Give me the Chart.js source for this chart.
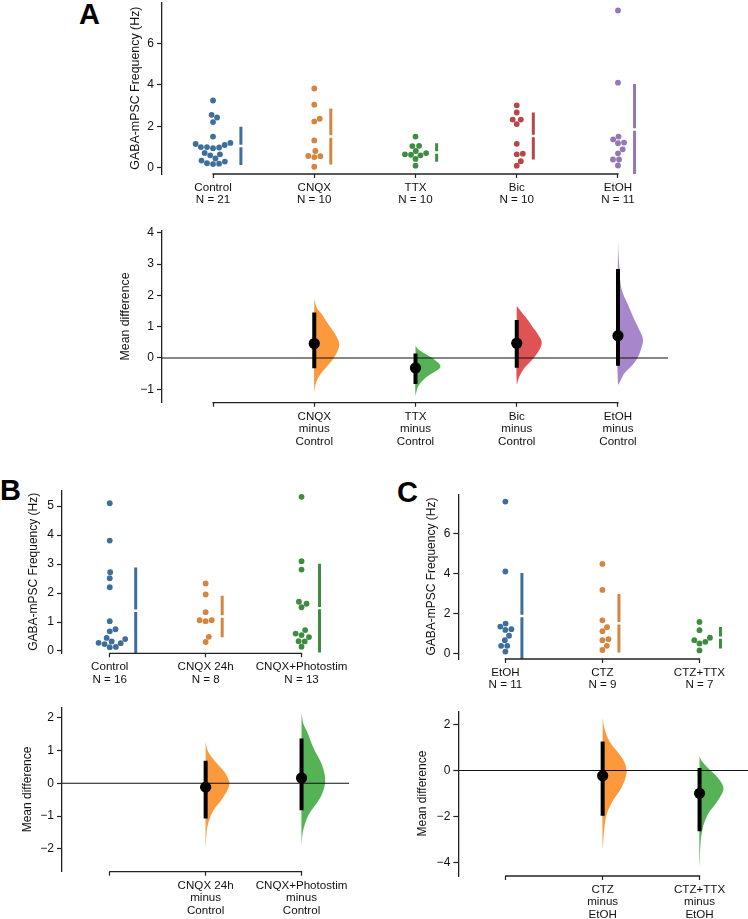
<!DOCTYPE html>
<html><head><meta charset="utf-8">
<script src="https://cdn.jsdelivr.net/npm/chart.js@4.4.1/dist/chart.umd.min.js"></script>
<style>
html,body{margin:0;padding:0;background:#fff;}
body{width:748px;height:919px;position:relative;overflow:hidden;font-family:"Liberation Sans",Arial,sans-serif;}
canvas{position:absolute;}
.lbl{position:absolute;font-weight:bold;font-size:29px;line-height:1;color:#000;font-family:"Liberation Sans",Arial,sans-serif;}
</style></head><body>
<div class="lbl" style="left:79px;top:0px">A</div>
<div class="lbl" style="left:0px;top:476px">B</div>
<div class="lbl" style="left:397px;top:478px">C</div>
<script>
// ---------------- DATA ----------------
// Panel A (swarm)
const aGroups = ['Control','CNQX','TTX','Bic','EtOH'];
const aControl = [3.25,2.56,2.43,2.21,1.51,1.15,1.2,1.1,1.0,0.98,1.0,0.95,0.72,0.65,0.6,0.45,0.35,0.3,0.22,0.18,0.2];
const aCNQX = [3.83,3.05,2.37,2.24,1.32,0.81,0.56,0.52,0.57,0.05];
const aTTX = [1.51,1.05,1.06,0.71,0.6,0.65,0.63,0.81,0.43,0.1];
const aBic = [3.02,2.67,2.33,2.33,2.11,1.16,0.68,0.65,0.32,0.1];
const aEtOH = [7.6,4.11,1.51,1.22,1.19,1.37,0.89,0.7,0.4,0.4,0.11];
const aMeans = [1.055,1.51,0.74,1.535,1.85];
const aSDs = [0.925,1.35,0.45,1.135,2.2];
const aYTicks = [0,2,4,6];
// Panel A (mean differences)
const aDiffLabels = ['CNQX','TTX','Bic','EtOH'];
const aDiff = [0.46,-0.32,0.47,0.71];
const aCiLo = [-0.33,-0.83,-0.31,-0.25];
const aCiHi = [1.45,0.14,1.21,2.84];
const aDiffTicks = [-1,0,1,2,3,4];
const aViolinY = [
  [1.9,1.6,1.4,1.15,0.95,0.7,0.45,0.25,0.0,-0.3,-0.6,-0.85,-1.09],
  [0.38,0.25,0.1,-0.05,-0.27,-0.45,-0.6,-0.75,-0.95,-1.2],
  [1.66,1.4,1.2,1.0,0.75,0.5,0.25,0.0,-0.3,-0.6,-0.83],
  [3.8,3.3,2.85,2.2,1.7,1.2,0.85,0.59,0.3,0.0,-0.25,-0.5,-0.83]
];
const aViolinW = [
  [0,0.1,0.3,0.5,0.68,0.88,1.0,0.95,0.78,0.48,0.18,0.05,0],
  [0,0.15,0.45,0.75,1.0,0.75,0.45,0.25,0.08,0],
  [0,0.25,0.45,0.62,0.85,1.0,0.9,0.68,0.33,0.1,0],
  [0,0.02,0.06,0.14,0.4,0.67,0.88,1.0,0.93,0.78,0.55,0.25,0]
];

// Panel B (swarm)
const bGroups = ['Control','CNQX 24h','CNQX+Photostim'];
const bControl = [5.1,3.81,2.72,2.51,2.2,1.03,0.75,0.68,0.45,0.41,0.28,0.27,0.24,0.33,0.14,0.13];
const bCNQX24 = [2.33,1.95,1.34,1.06,1.03,1.06,0.49,0.31];
const bPhotostim = [5.32,3.1,2.81,1.63,1.7,1.51,0.72,0.6,0.55,0.48,0.34,0.33,0.15];
const bMeans = [1.39,1.19,1.48];
const bSDs = [1.49,0.72,1.53];
const bYTicks = [0,1,2,3,4,5];
// Panel B (mean differences)
const bDiffLabels = ['CNQX 24h','CNQX+Photostim'];
const bDiff = [-0.12,0.16];
const bCiLo = [-1.07,-0.82];
const bCiHi = [0.68,1.36];
const bDiffTicks = [-2,-1,0,1,2];
const bViolinY = [
  [1.26,1.0,0.8,0.56,0.26,-0.05,-0.44,-0.84,-1.24,-1.6,-1.99],
  [2.11,1.8,1.56,1.06,0.56,0.06,-0.44,-0.94,-1.34,-1.6,-1.89]
];
const bViolinW = [
  [0,0.08,0.25,0.53,0.87,1.0,0.73,0.32,0.1,0.03,0],
  [0,0.08,0.24,0.51,0.86,1.0,0.79,0.31,0.1,0.03,0]
];

// Panel C (swarm)
const cGroups = ['EtOH','CTZ','CTZ+TTX'];
const cEtOH = [7.61,4.12,1.52,1.24,1.2,1.37,0.91,0.69,0.41,0.41,0.12];
const cCTZ = [4.5,3.2,1.68,1.34,1.14,0.74,0.69,0.41,0.2];
const cCTZTTX = [1.6,1.19,0.61,0.53,0.69,0.81,0.18];
const cMeans = [1.9,1.535,0.815];
const cSDs = [2.15,1.465,0.535];
const cYTicks = [0,2,4,6];
// Panel C (mean differences)
const cDiffLabels = ['CTZ','CTZ+TTX'];
const cDiff = [-0.23,-0.99];
const cCiLo = [-1.96,-2.63];
const cCiHi = [1.26,0.11];
const cDiffTicks = [-4,-2,0,2];
const cViolinY = [
  [2.29,1.8,1.26,0.69,0.3,-0.1,-0.74,-1.31,-1.89,-2.6,-3.39],
  [0.61,0.4,0.11,-0.31,-0.77,-1.31,-1.89,-2.46,-3.17,-4.17]
];
const cViolinW = [
  [0,0.08,0.29,0.71,0.93,1.0,0.79,0.43,0.17,0.06,0],
  [0,0.1,0.35,0.76,1.0,0.76,0.35,0.14,0.04,0]
];

// ---------------- STYLE ----------------
const FONT = '"Liberation Sans", Arial, sans-serif';
const SWARM = {blue:'#3e6f9b', orange:'#d4853f', green:'#3e8c3f', red:'#b84547', purple:'#9577b9'};
const VIOL = {orange:'#fd993d', green:'#55b255', red:'#df5354', purple:'#a886cb'};
const R = 2.9;           // swarm point radius (px)
const VW = 0.247;        // max half-violin width (category units)

function fmt(v){ return v < 0 ? '\u2212' + Math.abs(v) : String(v); }

function place(area, yw, xh){
  const c = document.createElement('canvas');
  const left = Math.round(area.L - yw);
  const top = Math.floor(area.T - 8);
  const width = Math.ceil(area.R - left);
  const height = Math.min(919 - top, Math.ceil(area.B + xh - top));
  c.width = width; c.height = height;
  c.style.left = left + 'px'; c.style.top = top + 'px';
  c.style.width = width + 'px'; c.style.height = height + 'px';
  document.body.appendChild(c);
  return {canvas:c, padTop: area.T - top, ywEff: area.L - left,
          padRight: width - (area.R - left), xhEff: height - (area.B - top)};
}

const spinePlugin = {
  id:'spine',
  afterDraw(chart, args, opts){
    const {ctx, chartArea} = chart; const xs = chart.scales.x;
    const x0 = xs.getPixelForValue(0), x1 = xs.getPixelForValue(opts.n - 1);
    ctx.save(); ctx.strokeStyle = '#222'; ctx.lineWidth = 1.3;
    ctx.beginPath(); ctx.moveTo(x0 - 0.6, chartArea.bottom); ctx.lineTo(x1 + 0.6, chartArea.bottom); ctx.stroke();
    ctx.restore();
  }
};

function scalesFor(g, o){
  return {
    x: { type:'linear', min:o.xMin, max:o.xMax,
      afterBuildTicks: s => { s.ticks = o.xLabels.map((_,i)=>({value:i})); },
      afterFit: s => { s.height = g.xhEff; },
      border:{display:false},
      grid:{display:true, drawOnChartArea:false, drawTicks:true, tickLength:4, tickWidth:1.2, tickColor:'#222'},
      ticks:{autoSkip:false, maxRotation:0, minRotation:0, padding:3.5, color:'#111',
             font:{family:FONT, size:11.6, lineHeight:1.08},
             callback:(v)=>o.xLabels[Math.round(v)]}
    },
    y: { type:'linear', min:o.yMin, max:o.yMax,
      afterBuildTicks: s => { s.ticks = o.yTicks.map(v=>({value:v})); },
      afterFit: s => { s.width = g.ywEff; },
      border:{display:true, color:'#222', width:1.3},
      grid:{display:true, drawOnChartArea:false, drawTicks:true, tickLength:5, tickWidth:1.2, tickColor:'#222'},
      ticks:{padding:3, color:'#111', font:{family:FONT, size:12}, callback:v=>fmt(v)},
      title:{display:true, text:o.yTitle, color:'#111', font:{family:FONT, size:o.titleSize}, padding:0}
    }
  };
}

function baseOptions(g, o){
  return {
    responsive:false, animation:false, devicePixelRatio:1,
    layout:{autoPadding:false, padding:{top:g.padTop, right:g.padRight, left:0, bottom:0}},
    plugins:{legend:{display:false}, tooltip:{enabled:false}, spine:{n:o.xLabels.length}},
    scales: scalesFor(g, o)
  };
}

function beeswarm(ypx, d){
  const order = ypx.map((_,i)=>i).sort((a,b)=>ypx[b]-ypx[a]);
  const placed = []; const out = new Array(ypx.length).fill(0);
  for (const i of order){
    const y = ypx[i]; const cands = [0];
    for (const p of placed){
      const dy = Math.abs(p.y - y);
      if (dy < d){ const dx = Math.sqrt(d*d - dy*dy); cands.push(p.x + dx, p.x - dx); }
    }
    cands.sort((a,b)=>Math.abs(a)-Math.abs(b) || b - a);
    let chosen = 0;
    for (const c of cands){
      if (placed.every(p => (p.x-c)*(p.x-c) + (p.y-y)*(p.y-y) >= d*d - 1e-6)){ chosen = c; break; }
    }
    placed.push({x:chosen, y}); out[i] = chosen;
  }
  return out;
}

function swarmChart(area, yw, xh, o){
  const g = place(area, yw, xh);
  const n = o.groups.length;
  const datasets = [];
  o.values.forEach((vals,i)=>{
    datasets.push({data: vals.map(v=>({x:i, y:v})), pointRadius:R, pointBackgroundColor:o.colors[i],
                   pointBorderWidth:0, showLine:false, order:0});
  });
  o.values.forEach((vals,i)=>{
    datasets.push({data: [], showLine:true, spanGaps:false, borderColor:o.colors[i], borderWidth:3,
                   borderCapStyle:'butt', pointRadius:0, order:1});
  });
  const xLabels = o.groups.map((nm,i)=>[nm, 'N = ' + o.values[i].length]);
  const opt = Object.assign({}, o, {xLabels});
  const chart = new Chart(g.canvas, {type:'scatter', data:{datasets}, options: baseOptions(g, opt), plugins:[spinePlugin]});
  const xs = chart.scales.x, ys = chart.scales.y;
  const pxPerX = xs.getPixelForValue(1) - xs.getPixelForValue(0);
  const pxPerY = ys.getPixelForValue(0) - ys.getPixelForValue(1);
  o.values.forEach((vals,i)=>{
    const offs = beeswarm(vals.map(v=>ys.getPixelForValue(v)), 2*R + 0.3);
    chart.data.datasets[i].data = vals.map((v,k)=>({x: i + offs[k]/pxPerX, y: v}));
    const maxOff = Math.max(0, ...offs);
    const bx = i + (maxOff + 10.5)/pxPerX;
    const m = o.means[i], s = o.sds[i], gap = 1.2/pxPerY;
    chart.data.datasets[n + i].data = [{x:bx,y:m-s},{x:bx,y:m-gap},{x:bx,y:null},{x:bx,y:m+gap},{x:bx,y:m+s}];
  });
  chart.update('none');
  return chart;
}

function diffChart(area, yw, xh, o){
  const g = place(area, yw, xh);
  const ref = o.refName;
  const xLabels = [''].concat(o.labels.map(l=>[l,'minus',ref]));
  const datasets = [];
  // zero line
  datasets.push({data:[{x:o.xMin,y:0},{x:o.xMax,y:0}], showLine:true, borderColor:'#111', borderWidth:1.1,
                 pointRadius:0, order:2});
  o.labels.forEach((_,j)=>{
    const c = j + 1;
    const vy = o.violinY[j], vw = o.violinW[j];
    const pts = vy.map((y,k)=>({x: c + vw[k]*VW, y}));
    pts.push({x:c, y:vy[0]});
    datasets.push({data:pts, showLine:true, fill:'shape', backgroundColor:o.colors[j], borderWidth:0,
                   borderColor:'rgba(0,0,0,0)', pointRadius:0, tension:0.35, order:3});
    datasets.push({data:[{x:c,y:o.ciLo[j]},{x:c,y:o.ciHi[j]}], showLine:true, borderColor:'#000', borderWidth:4,
                   borderCapStyle:'butt', pointRadius:0, order:1});
    datasets.push({data:[{x:c,y:o.diff[j]}], pointRadius:5.6, pointBackgroundColor:'#000', pointBorderWidth:0,
                   showLine:false, order:0});
  });
  const opt = Object.assign({}, o, {xLabels});
  return new Chart(g.canvas, {type:'scatter', data:{datasets}, options: baseOptions(g, opt), plugins:[spinePlugin]});
}

const TITLE_F = 'GABA-mPSC Frequency (Hz)';

// Panel A
swarmChart({L:162, T:0, R:668, B:174}, 34, 40, {
  groups:aGroups, values:[aControl,aCNQX,aTTX,aBic,aEtOH], means:aMeans, sds:aSDs,
  colors:[SWARM.blue,SWARM.orange,SWARM.green,SWARM.red,SWARM.purple],
  xMin:-0.504, xMax:4.494, yMin:-0.3, yMax:8.0, yTicks:aYTicks, yTitle:TITLE_F, titleSize:12.4
});
diffChart({L:162, T:228.3, R:668, B:402.7}, 44, 50, {
  labels:aDiffLabels, refName:'Control', diff:aDiff, ciLo:aCiLo, ciHi:aCiHi,
  violinY:aViolinY, violinW:aViolinW, colors:[VIOL.orange,VIOL.green,VIOL.red,VIOL.purple],
  xMin:-0.504, xMax:4.494, yMin:-1.43, yMax:4.08, yTicks:aDiffTicks, yTitle:'Mean difference', titleSize:12.3
});

// Panel B
swarmChart({L:62, T:488, R:350.7, B:653.3}, 36, 40, {
  groups:bGroups, values:[bControl,bCNQX24,bPhotostim], means:bMeans, sds:bSDs,
  colors:[SWARM.blue,SWARM.orange,SWARM.green],
  xMin:-0.498, xMax:2.498, yMin:-0.08, yMax:5.55, yTicks:bYTicks, yTitle:TITLE_F, titleSize:12
});
diffChart({L:62, T:705, R:350.7, B:871.7}, 42, 48, {
  labels:bDiffLabels, refName:'Control', diff:bDiff, ciLo:bCiLo, ciHi:bCiHi,
  violinY:bViolinY, violinW:bViolinW, colors:[VIOL.orange,VIOL.green],
  xMin:-0.498, xMax:2.498, yMin:-2.69, yMax:2.31, yTicks:bDiffTicks, yTitle:'Mean difference', titleSize:12
});

// Panel C
swarmChart({L:458.3, T:492.7, R:748, B:659}, 34, 40, {
  groups:cGroups, values:[cEtOH,cCTZ,cCTZTTX], means:cMeans, sds:cSDs,
  colors:[SWARM.blue,SWARM.orange,SWARM.green],
  xMin:-0.485, xMax:2.5, yMin:-0.25, yMax:7.98, yTicks:cYTicks, yTitle:TITLE_F, titleSize:12
});
diffChart({L:458.3, T:709.3, R:748, B:876}, 43, 43, {
  labels:cDiffLabels, refName:'EtOH', diff:cDiff, ciLo:cCiLo, ciHi:cCiHi,
  violinY:cViolinY, violinW:cViolinW, colors:[VIOL.orange,VIOL.green],
  xMin:-0.49, xMax:2.5, yMin:-4.57, yMax:2.57, yTicks:cDiffTicks, yTitle:'Mean difference', titleSize:12
});
</script>
</body></html>
